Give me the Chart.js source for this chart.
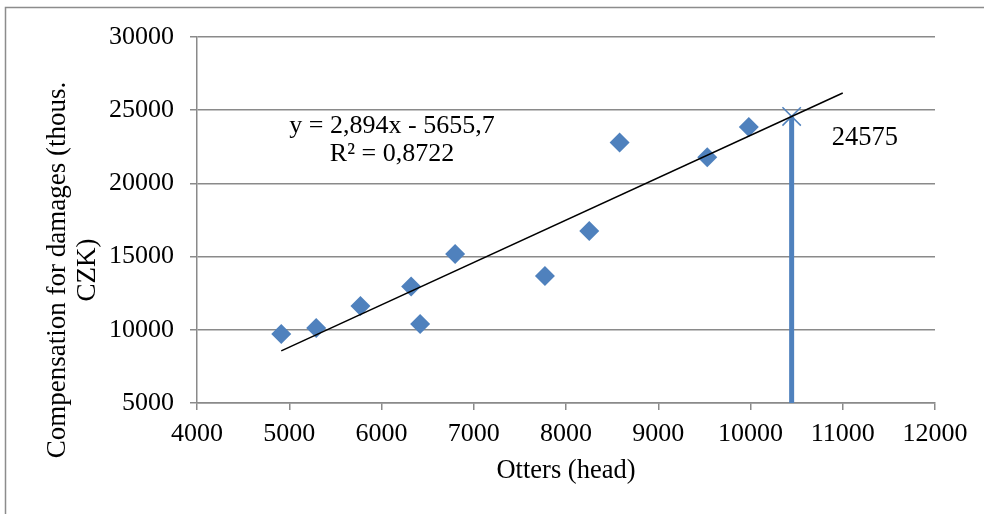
<!DOCTYPE html>
<html><head><meta charset="utf-8">
<script src="https://cdn.jsdelivr.net/npm/chart.js@4"></script>
<style>html,body{margin:0;padding:0;background:#fff;overflow:hidden}#wrap{width:984px;height:514px;position:relative}canvas{display:block}</style>
</head><body><div id="wrap"><canvas id="c" width="984" height="514"></canvas></div>
<script>
const ottersX = [4913, 5292, 5772, 6321, 6419, 6798, 7772, 8252, 8581, 9531, 9982];
const compensationY = [9720, 10120, 11620, 12950, 10390, 15180, 13680, 16750, 22800, 21780, 23860];
const trendX = [4913, 11000];
const trendY = [8562, 26178];
const forecastX = [10446, 10446];
const forecastY = [5000, 24575];
const xTicks = [4000, 5000, 6000, 7000, 8000, 9000, 10000, 11000, 12000];
const yTicks = [5000, 10000, 15000, 20000, 25000, 30000];
const equationLines = ['y = 2,894x - 5655,7', 'R\u00b2 = 0,8722'];
const xTitle = 'Otters (head)';
const yTitleLines = ['Compensation for damages (thous.', 'CZK)'];

const FONT = '"Liberation Serif", "Times New Roman", serif';
const BLUE = '#4F81BD';
const GRID = '#8a8a8a';

const pts = ottersX.map((x, i) => ({x, y: compensationY[i]}));
const trend = trendX.map((x, i) => ({x, y: trendY[i]}));
const forecast = forecastX.map((x, i) => ({x, y: forecastY[i]}));

const decor = {
  id: 'decor',
  beforeDraw(chart) {
    const ctx = chart.ctx;
    ctx.save();
    ctx.strokeStyle = '#8c8c8c';
    ctx.lineWidth = 1.5;
    ctx.beginPath();
    ctx.moveTo(5.5, 514); ctx.lineTo(5.5, 7.5); ctx.lineTo(984, 7.5);
    ctx.stroke();
    ctx.restore();
  },
  afterDraw(chart) {
    const ctx = chart.ctx;
    const xs = chart.scales.x, ys = chart.scales.y;
    ctx.save();
    ctx.fillStyle = '#000';
    ctx.textAlign = 'center';
    ctx.textBaseline = 'middle';
    // y title
    ctx.font = '27px ' + FONT;
    ctx.save();
    ctx.translate(58, 270);
    ctx.rotate(-Math.PI / 2);
    ctx.fillText(yTitleLines[0], 0, 0);
    ctx.restore();
    ctx.save();
    ctx.translate(88, 270);
    ctx.rotate(-Math.PI / 2);
    ctx.fillText(yTitleLines[1], 0, 0);
    ctx.restore();
    // x title
    ctx.font = '26.5px ' + FONT;
    ctx.fillText(xTitle, (xs.left + xs.right) / 2, 471);
    // equation
    ctx.font = '26px ' + FONT;
    ctx.textAlign = 'center';
    ctx.fillText(equationLines[0], 392, 126);
    ctx.fillText(equationLines[1], 392, 154);
    // data label
    ctx.textAlign = 'left';
    ctx.font = '26.5px ' + FONT;
    const px = xs.getPixelForValue(forecastX[1]);
    const py = ys.getPixelForValue(forecastY[1]);
    ctx.fillText(String(forecastY[1]), px + 40, py + 22);
    ctx.restore();
  }
};

new Chart(document.getElementById('c'), {
  type: 'scatter',
  data: {
    datasets: [
      {
        type: 'line', data: forecast, borderColor: BLUE, borderWidth: 5,
        pointRadius: 0, borderCapStyle: 'butt', order: 3
      },
      {
        data: [forecast[1]], pointStyle: 'crossRot', pointRadius: 13,
        borderColor: BLUE, borderWidth: 1.5, backgroundColor: BLUE, order: 2
      },
      {
        data: pts, pointStyle: 'rectRot', pointRadius: 10,
        backgroundColor: BLUE, borderWidth: 0, order: 1
      },
      {
        type: 'line', data: trend, borderColor: '#000', borderWidth: 1.5,
        pointRadius: 0, order: 0
      }
    ]
  },
  options: {
    responsive: false,
    animation: false,
    devicePixelRatio: 1,
    layout: {padding: {left: 0, top: 37, right: 49, bottom: 0}},
    plugins: {legend: {display: false}, tooltip: {enabled: false}},
    scales: {
      x: {
        type: 'linear', min: 4000, max: 12000,
        afterBuildTicks: s => { s.ticks = xTicks.map(v => ({value: v})); },
        afterFit: s => { s.height = 111; },
        ticks: {color: '#000', font: {family: FONT, size: 26}, padding: 9, callback: v => String(v), maxRotation: 0, autoSkip: false},
        grid: {display: true, drawOnChartArea: false, drawTicks: true, tickLength: 7, color: GRID, lineWidth: 1.5},
        border: {display: true, color: GRID, width: 1.5}
      },
      y: {
        type: 'linear', min: 5000, max: 30000,
        afterBuildTicks: s => { s.ticks = yTicks.map(v => ({value: v})); },
        afterFit: s => { s.width = 197; },
        ticks: {color: '#000', font: {family: FONT, size: 26}, padding: 16, callback: v => String(v), autoSkip: false},
        grid: {display: true, drawTicks: true, tickLength: 7, color: GRID, lineWidth: 1.5},
        border: {display: true, color: GRID, width: 1.5}
      }
    }
  },
  plugins: [decor]
});
</script>
</body></html>
